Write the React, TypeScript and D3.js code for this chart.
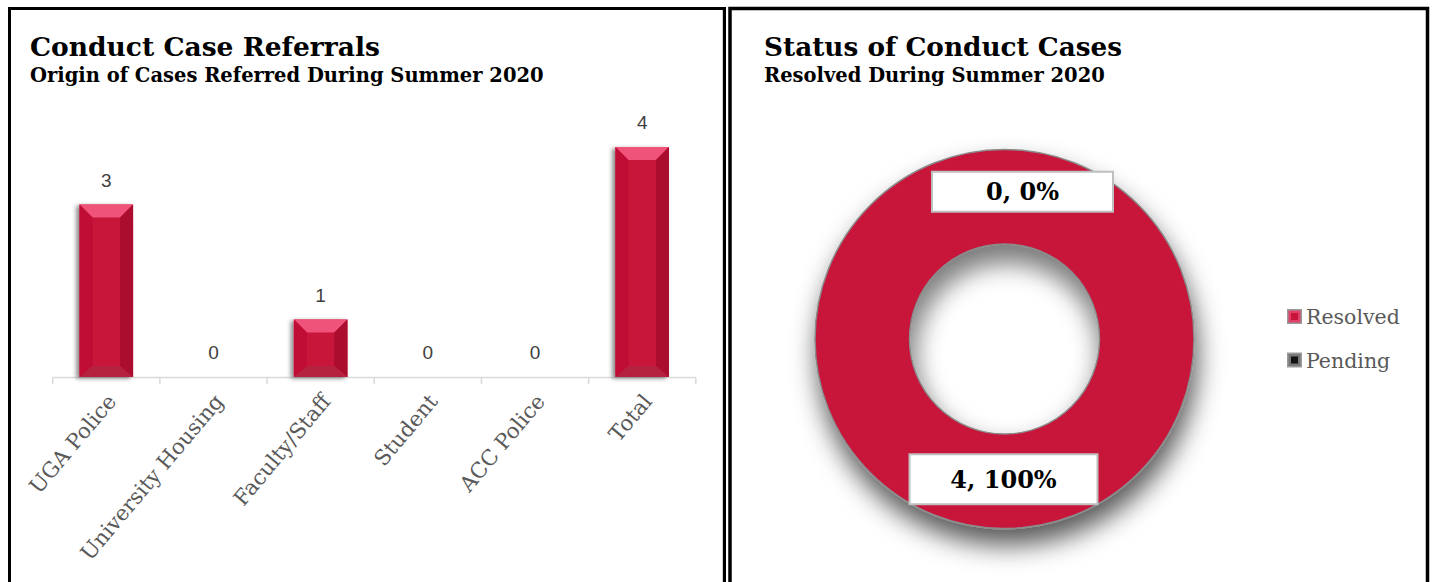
import React from 'react';
import * as d3 from 'd3';

// referral chart
const categories = ['UGA Police', 'University Housing', 'Faculty/Staff', 'Student', 'ACC Police', 'Total'];
const referrals = [3, 0, 1, 0, 0, 4];

// status donut
const statusLabels = ['Resolved', 'Pending'];
const statusCounts = [4, 0];
const statusColors = ['#c8133a', '#111111'];

const serif = '"DejaVu Serif", Georgia, serif';
const sans = '"Liberation Sans", Arial, sans-serif';

const Bar = ({ x0, x1, y0, y1 }) => {
  const b = Math.min(13, (x1 - x0) / 4, (y1 - y0) / 3);
  const bb = Math.min(11, (y1 - y0) / 4);
  const pts = (a) => a.map((p) => p.join(',')).join(' ');
  return (
    <g filter="url(#barShadow)">
      <rect x={x0} y={y0} width={x1 - x0} height={y1 - y0} fill="#c8133a" />
      <polygon points={pts([[x0, y0], [x1, y0], [x1 - b, y0 + b], [x0 + b, y0 + b]])} fill="#f0527a" />
      <polygon points={pts([[x0, y0], [x0 + b, y0 + b], [x0 + b, y1 - bb], [x0, y1]])} fill="#bf0e36" />
      <polygon points={pts([[x1, y0], [x1, y1], [x1 - b, y1 - bb], [x1 - b, y0 + b]])} fill="#ab0a2e" />
      <polygon points={pts([[x0, y1], [x0 + b, y1 - bb], [x1 - b, y1 - bb], [x1, y1]])} fill="#b4213f" />
    </g>
  );
};

const App = () => {
  const x = d3.scaleBand<string>().domain(categories).range([52.7, 695.8]).paddingInner(0.5).paddingOuter(0.25);
  const y = d3.scaleLinear().domain([0, 4]).range([377, 147]);
  const step = x.step();
  const tickXs = categories.map((c) => (x(c) as number) - step * 0.25).concat([695.8]);

  const cx = 1004.5;
  const cy = 339;
  const pie = d3.pie<number>().sort(null).value((d) => d);
  const arcs = pie(statusCounts);
  const arc = d3.arc<d3.PieArcDatum<number>>().innerRadius(95).outerRadius(189.5);
  const total = d3.sum(statusCounts);

  const boxSize = [
    { w: 188, h: 50, dx: -1, dy: -2 },
    { w: 181, h: 40, dx: 18, dy: -5 },
  ];

  return (
    <div style={{ position: 'fixed', left: 0, top: 0 }}>
      <svg width={1432} height={582} style={{ display: 'block', background: '#fff' }}>
        <defs>
          <filter id="barShadow" x="-30%" y="-10%" width="160%" height="130%">
            <feDropShadow dx="-3" dy="1.5" stdDeviation="2" floodColor="#000" floodOpacity="0.45" />
          </filter>
          <filter id="ringShadow" x="-40%" y="-40%" width="180%" height="190%">
            <feDropShadow dx="3" dy="16" stdDeviation="13" floodColor="#000" floodOpacity="0.65" />
          </filter>
          <radialGradient id="holeShade" cx="50%" cy="62%" r="60%">
            <stop offset="0.7" stopColor="#fff" stopOpacity="0" />
            <stop offset="1" stopColor="#9a9a9a" stopOpacity="0.55" />
          </radialGradient>
        </defs>

        {/* panel borders */}
        <rect x={9.5} y={8.5} width={715} height={620} fill="none" stroke="#000" strokeWidth={3} />
        <line x1={722.5} y1={10} x2={722.5} y2={582} stroke="#d0d0d0" strokeWidth={1} />
        <rect x={730} y={8.5} width={697.5} height={620} fill="none" stroke="#000" strokeWidth={3.5} />

        {/* left chart */}
        <text x={30} y={56} fontFamily={serif} fontWeight="bold" fontSize={26.5} fill="#000">Conduct Case Referrals</text>
        <text x={30} y={82} fontFamily={serif} fontWeight="bold" fontSize={19.5} fill="#000">Origin of Cases Referred During Summer 2020</text>

        <line x1={52.7} x2={695.8} y1={377.5} y2={377.5} stroke="#d9d9d9" strokeWidth={1.5} />
        {tickXs.map((t, i) => (
          <line key={i} x1={t} x2={t} y1={377.5} y2={384} stroke="#d9d9d9" strokeWidth={1.5} />
        ))}

        {categories.map((c, i) => {
          const x0 = x(c) as number;
          const x1 = x0 + x.bandwidth();
          const v = referrals[i];
          return (
            <g key={c}>
              {v > 0 && <Bar x0={x0} x1={x1} y0={y(v)} y1={y(0)} />}
              <text x={x0 + x.bandwidth() / 2} y={y(v) - 18} textAnchor="middle" fontFamily={sans} fontSize={19} fill="#404040">
                {v}
              </text>
              <text
                transform={`translate(${x0 + x.bandwidth() / 2 + 11},${402}) rotate(-50)`}
                textAnchor="end"
                fontFamily={serif}
                fontSize={21.3}
                fill="#595959"
              >
                {c}
              </text>
            </g>
          );
        })}

        {/* right chart */}
        <text x={764} y={56} fontFamily={serif} fontWeight="bold" fontSize={26.3} fill="#000">Status of Conduct Cases</text>
        <text x={764} y={82} fontFamily={serif} fontWeight="bold" fontSize={19.5} fill="#000">Resolved During Summer 2020</text>

        <g transform={`translate(${cx},${cy})`}>
          <g filter="url(#ringShadow)">
            {arcs.map((a, i) =>
              a.value > 0 ? (
                <path key={i} d={arc(a) as string} fill={statusColors[i]} stroke="#8a8a8a" strokeWidth={1.5} />
              ) : null
            )}
          </g>
          <circle r={94} fill="url(#holeShade)" />
          {arcs.map((a, i) => {
            const [lx, ly] = arc.centroid(a);
            const bs = boxSize[i];
            const pct = total ? Math.round((a.value / total) * 100) : 0;
            return (
              <g key={'l' + i} transform={`translate(${lx + bs.dx},${ly + bs.dy})`}>
                <rect x={-bs.w / 2} y={-bs.h / 2} width={bs.w} height={bs.h} fill="#fff" stroke="#bfbfbf" strokeWidth={2} />
                <text y={0} dy="0.36em" textAnchor="middle" fontFamily={serif} fontWeight="bold" fontSize={24} fill="#000">
                  {`${a.value}, ${pct}%`}
                </text>
              </g>
            );
          })}
        </g>

        {/* legend */}
        {statusLabels.map((s, i) => {
          const ly = 317 + i * 43.5;
          return (
            <g key={s} transform={`translate(1287,${ly})`}>
              <rect x={0} y={-8} width={15} height={15} fill="#9a9a9a" />
              <rect x={1.5} y={-6.5} width={12} height={12} fill={i === 0 ? '#e0406a' : '#777'} />
              <rect x={4} y={-4} width={7} height={7} fill={statusColors[i]} />
              <text x={19} y={0} dy="0.36em" fontFamily={serif} fontSize={20.5} fill="#595959">{s}</text>
            </g>
          );
        })}
      </svg>
    </div>
  );
};

export default App;
